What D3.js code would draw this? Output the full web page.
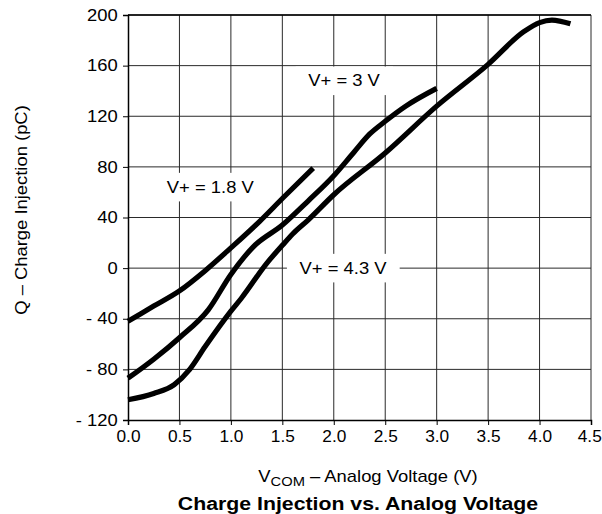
<!DOCTYPE html>
<html><head><meta charset="utf-8">
<script src="https://cdn.jsdelivr.net/npm/d3@7"></script>
<style>
html,body{margin:0;padding:0;background:#fff;}
svg{display:block;font-family:"Liberation Sans",Arial,Helvetica,sans-serif;}
</style></head>
<body>
<svg id="chart" width="602" height="514"></svg>
<script>
// ---- data ----
const xTicks = [0, 0.5, 1.0, 1.5, 2.0, 2.5, 3.0, 3.5, 4.0, 4.5];
const xTickLabels = ["0.0","0.5","1.0","1.5","2.0","2.5","3.0","3.5","4.0","4.5"];
const yTicks = [-120, -80, -40, 0, 40, 80, 120, 160, 200];
const yTickLabels = ["- 120","- 80","- 40","0","40","80","120","160","200"];

const v18 = [0, 0.25, 0.5, 0.75, 1.0, 1.28, 1.5, 1.8];
const q18 = [-42, -30, -18, -2, 16, 37, 55, 79];

const v30 = [0, 0.25, 0.5, 0.78, 1.0, 1.22, 1.5, 1.75, 2.0, 2.2, 2.35, 2.5, 2.7, 3.0];
const q30 = [-87, -72, -55, -33, -5, 17, 34, 53, 73, 92, 106, 116, 128, 142];

const v43 = [0, 0.25, 0.45, 0.6, 0.75, 1.0, 1.1, 1.35, 1.5, 1.6, 1.75, 2.0, 2.5, 3.0, 3.5, 3.85, 4.0, 4.12, 4.3];
const q43 = [-104, -99, -92, -80, -62, -34, -24, 4, 18, 27, 38, 58, 91, 128, 161, 187, 194, 196, 193];

const seriesLabels = ["V+ = 1.8 V", "V+ = 3 V", "V+ = 4.3 V"];
const labelAt = [[0.8, 64], [2.1, 148], [2.09, 0]];

// ---- drawing ----
const svg = d3.select("#chart");
const x = d3.scaleLinear().domain([0, 4.5]).range([128, 591]);
const y = d3.scaleLinear().domain([-120, 200]).range([420, 15]);
const font = 16;
const stretch = 1.15;

// grid
const g = svg.append("g");
g.selectAll("line.vg").data(xTicks.slice(1)).enter().append("line")
  .attr("x1", d => x(d)).attr("x2", d => x(d))
  .attr("y1", y(200)).attr("y2", y(-120))
  .attr("stroke", "#2a2a2a").attr("stroke-width", 1);
g.selectAll("line.hg").data(yTicks.slice(1)).enter().append("line")
  .attr("x1", x(0)).attr("x2", x(4.5))
  .attr("y1", d => y(d)).attr("y2", d => y(d))
  .attr("stroke", "#2a2a2a").attr("stroke-width", 1);
g.append("line").attr("x1", x(0)).attr("x2", x(4.5)).attr("y1", y(200)).attr("y2", y(200))
  .attr("stroke", "#000").attr("stroke-width", 1.5);

// axes
const xAxis = d3.axisBottom(x).tickValues(xTicks).tickFormat((d, i) => xTickLabels[i]).tickSize(5).tickPadding(6);
const yAxis = d3.axisLeft(y).tickValues(yTicks).tickFormat((d, i) => yTickLabels[i]).tickSize(5).tickPadding(4);
const xa = svg.append("g").attr("transform", `translate(0,${y(-120)})`).call(xAxis);
const ya = svg.append("g").attr("transform", `translate(${x(0)},0)`).call(yAxis);
[xa, ya].forEach(a => {
  a.select(".domain").attr("stroke", "#000").attr("stroke-width", 1.5);
  a.selectAll(".tick line").attr("stroke", "#000").attr("stroke-width", 1);
  a.selectAll("text").attr("font-size", font).attr("fill", "#000")
    .attr("font-family", '"Liberation Sans",Arial,Helvetica,sans-serif');
});
ya.selectAll("text").attr("transform", `scale(${stretch},1)`);
xa.selectAll("text").attr("transform", `scale(1.08,1)`)
  .attr("dx", (d, i) => i === xTicks.length - 1 ? -1.6 : 0);

// helper for stretched text
function stext(px, py, rot) {
  return svg.append("g").attr("transform", `translate(${px},${py})` + (rot ? ` rotate(${rot})` : "") + ` scale(${stretch},1)`)
    .append("text").attr("x", 0).attr("y", 0);
}

// series labels with white boxes
seriesLabels.forEach((t, i) => {
  const px = x(labelAt[i][0]), py = y(labelAt[i][1]);
  const lg = svg.append("g").attr("transform", `translate(${px},${py}) scale(${stretch},1)`);
  const te = lg.append("text").attr("text-anchor", "middle").attr("dominant-baseline", "central")
    .attr("font-size", font).text(t);
  const b = te.node().getBBox();
  lg.insert("rect", "text").attr("x", b.x - 11).attr("y", b.y - 5)
    .attr("width", b.width + 22).attr("height", b.height + 10).attr("fill", "#fff");
});

// curves
const line = d3.line().x(d => x(d[0])).y(d => y(d[1])).curve(d3.curveMonotoneX);
[[v18, q18], [v30, q30], [v43, q43]].forEach(([vs, qs]) => {
  svg.append("path").datum(vs.map((v, i) => [v, qs[i]]))
    .attr("d", line).attr("fill", "none").attr("stroke", "#000")
    .attr("stroke-width", 5.2).attr("stroke-linejoin", "round");
});

// axis titles
const xt = stext(368, 482).attr("text-anchor", "middle").attr("font-size", font);
xt.append("tspan").text("V");
xt.append("tspan").attr("font-size", font * 0.8).attr("dy", 4).text("COM");
xt.append("tspan").attr("dy", -4).text(" – Analog Voltage (V)");

stext(21, 210, -90).attr("text-anchor", "middle").attr("font-size", font)
  .attr("dominant-baseline", "central").text("Q – Charge Injection (pC)");

stext(358, 510).attr("text-anchor", "middle").attr("font-size", 18.5)
  .attr("font-weight", "bold").text("Charge Injection vs. Analog Voltage");
</script>
</body></html>
